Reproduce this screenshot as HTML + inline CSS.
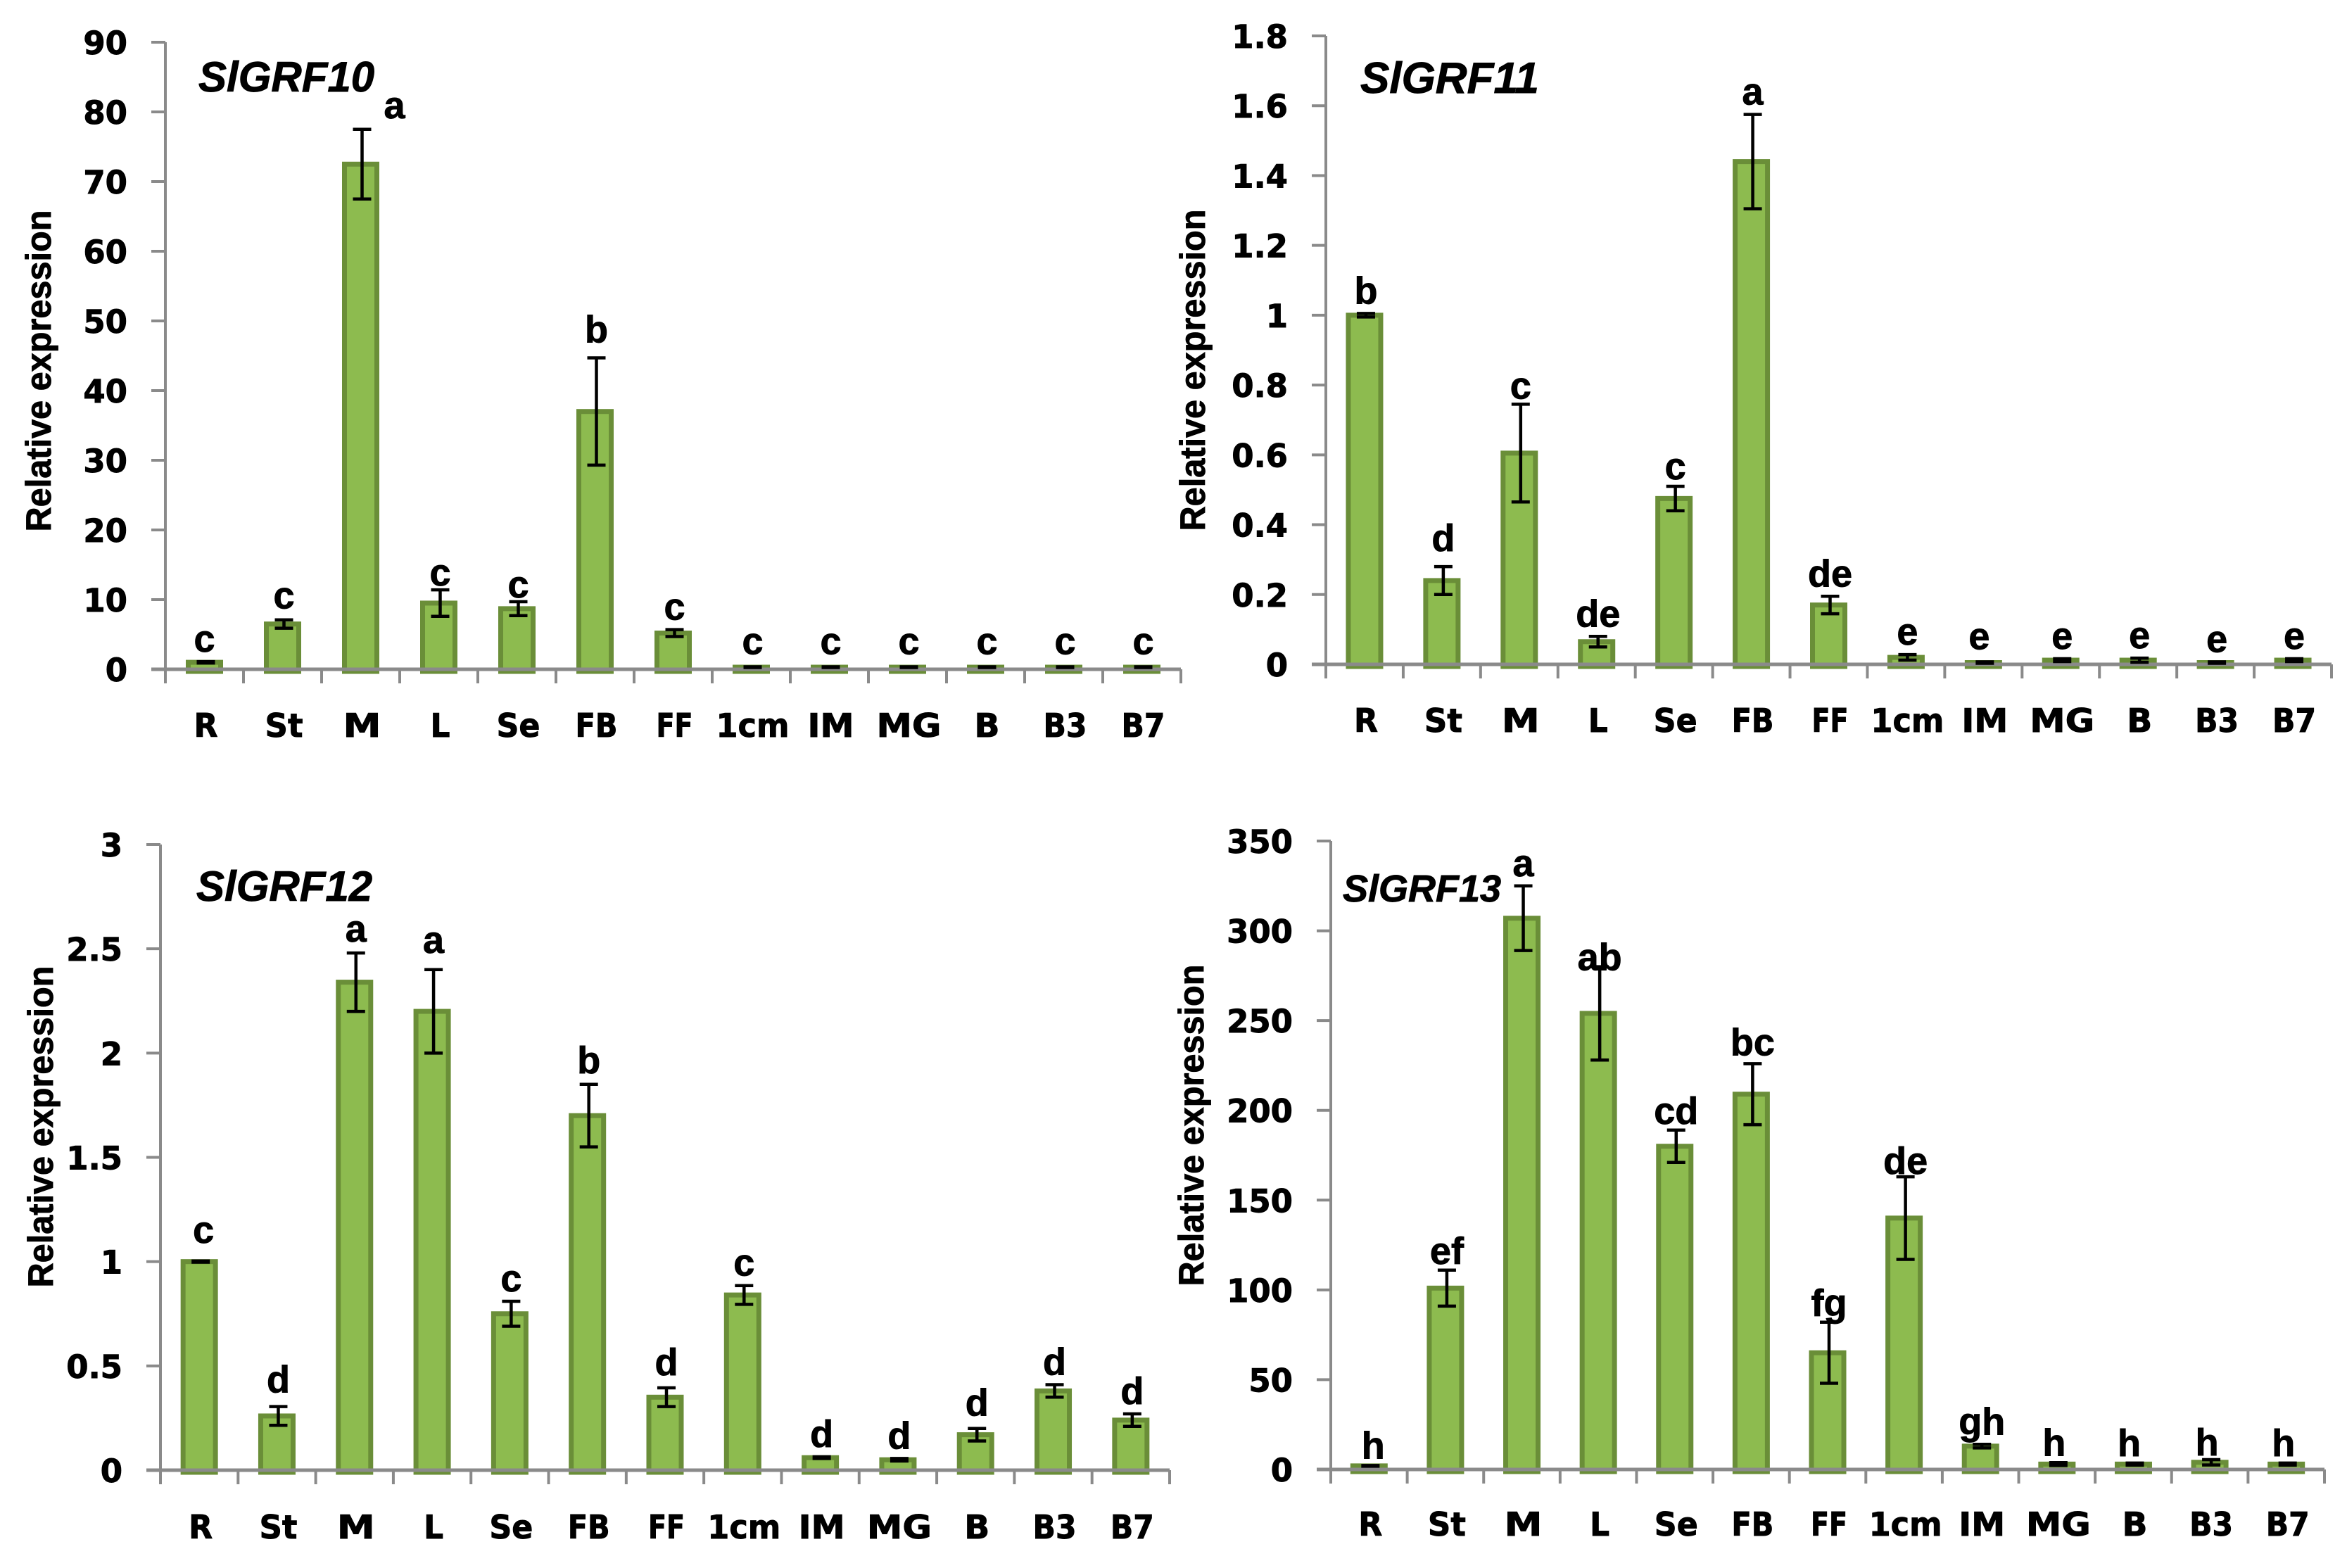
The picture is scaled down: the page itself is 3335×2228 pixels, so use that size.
<!DOCTYPE html>
<html lang="en">
<head>
<meta charset="utf-8">
<title>SlGRF relative expression</title>
<style>
html,body{margin:0;padding:0;background:#fff;}
svg{display:block;}
text{font-family:"DejaVu Sans","Liberation Sans",sans-serif;font-weight:bold;fill:#000;stroke:#000;stroke-width:0.9px;}
.title{font-family:"Liberation Sans",sans-serif;font-style:italic;}
.ytitle{font-family:"Liberation Sans",sans-serif;}
.letter{font-family:"Liberation Sans",sans-serif;}
</style>
</head>
<body>
<svg id="figure" xmlns="http://www.w3.org/2000/svg" width="3335" height="2228" viewBox="0 0 3335 2228"></svg>
<script>
const categories = ["R","St","M","L","Se","FB","FF","1cm","IM","MG","B","B3","B7"];

const values10 = [1, 6.5, 72.5, 9.5, 8.7, 37, 5.2, 0.3, 0.3, 0.3, 0.3, 0.3, 0.3];
const errors10 = [0.1, 0.6, 5, 1.9, 1, 7.7, 0.5, 0.05, 0.05, 0.05, 0.05, 0.05, 0.05];
const letters10 = ["c","c","a","c","c","b","c","c","c","c","c","c","c"];
const ticks10 = [0,10,20,30,40,50,60,70,80,90];

const values11 = [1.0, 0.24, 0.605, 0.065, 0.475, 1.44, 0.17, 0.02, 0.005, 0.012, 0.012, 0.005, 0.012];
const errors11 = [0.005, 0.04, 0.14, 0.015, 0.035, 0.135, 0.025, 0.008, 0.002, 0.004, 0.006, 0.002, 0.004];
const letters11 = ["b","d","c","de","c","a","de","e","e","e","e","e","e"];
const ticks11 = ["0","0.2","0.4","0.6","0.8","1","1.2","1.4","1.6","1.8"];

const values12 = [1, 0.26, 2.34, 2.2, 0.75, 1.7, 0.35, 0.84, 0.06, 0.05, 0.17, 0.38, 0.24];
const errors12 = [0.003, 0.045, 0.14, 0.2, 0.06, 0.15, 0.045, 0.045, 0.004, 0.006, 0.03, 0.03, 0.03];
const letters12 = ["c","d","a","a","c","b","d","c","d","d","d","d","d"];
const ticks12 = ["0","0.5","1","1.5","2","2.5","3"];

const values13 = [2, 101, 307, 254, 180, 209, 65, 140, 13, 3, 3, 4, 3];
const errors13 = [0.2, 10, 18, 26, 9, 17, 17, 23, 1, 0.8, 0.6, 1.5, 0.6];
const letters13 = ["h","ef","a","ab","cd","bc","fg","de","gh","h","h","h","h"];
const ticks13 = [0,50,100,150,200,250,300,350];

const NS = "http://www.w3.org/2000/svg";
const fig = document.getElementById("figure");

function make(tag, attrs, parent, txt) {
  const el = document.createElementNS(NS, tag);
  for (const k in attrs) el.setAttribute(k, attrs[k]);
  if (txt !== undefined) el.textContent = txt;
  parent.appendChild(el);
  return el;
}

function drawPanel(p) {
  const g = make("g", {}, fig);
  
  
  const n = categories.length;
  const step = (p.right - p.left) / n;
  const yMax = Number(p.ticks[p.ticks.length - 1]);
  const xPos = i => p.left + step * (i + 0.5);
  const yPos = v => p.base - (p.base - p.top) * Number(v) / yMax;

  const title = make("text", {class:"title", x:p.titleX, y:p.titleY, "font-size":p.titleSize}, g, p.title);
  
  

  const yTitle = make("text", {class:"ytitle", transform:"translate(" + p.yTitleX + " " + p.yTitleY + ") rotate(-90)", "text-anchor":"middle", "font-size":"50", textLength:"457", lengthAdjust:"spacingAndGlyphs"}, g, "Relative expression");
  
  

  p.values.forEach((v, i) => {
    const cx = xPos(i);
    const bar = make("rect", {x:cx - 23, width:46, y:yPos(v), height:Math.max(p.base - yPos(v) + 3, 1), fill:"#8dbb4f", stroke:"#6a8e38", "stroke-width":"7"}, g);
    
    
  });

  const axisColor = "#8a8a8a";
  const yAxis = make("line", {x1:p.left, x2:p.left, y1:p.top, y2:p.base + 20, stroke:axisColor, "stroke-width":"4"}, g);
  
  
  const xAxis = make("line", {x1:p.left - 20, x2:p.right, y1:p.base, y2:p.base, stroke:axisColor, "stroke-width":"5"}, g);
  
  

  p.ticks.forEach(t => {
    const y = yPos(t);
    const mark = make("line", {x1:p.left - 20, x2:p.left, y1:y, y2:y, stroke:axisColor, "stroke-width":"4"}, g);
    
    
    const label = make("text", {x:p.left - 54, y:y + 17, "text-anchor":"end", "font-size":"45"}, g, String(t));
    
    
  });

  for (let i = 0; i <= n; i++) {
    const x = p.left + step * i;
    const mark = make("line", {x1:x, x2:x, y1:p.base, y2:p.base + 20, stroke:axisColor, "stroke-width":"4"}, g);
    
    
  }

  categories.forEach((c, i) => {
    const label = make("text", {x:xPos(i) + 2, y:p.labelY, "text-anchor":"middle", "font-size":"46", textLength:p.labelWidth(c), lengthAdjust:"spacingAndGlyphs"}, g, c);
    
    
  });

  p.values.forEach((v, i) => {
    const cx = xPos(i) + 2;
    const hi = yPos(v + p.errors[i]);
    const lo = yPos(Math.max(v - p.errors[i], 0));
    const eb = make("path", {d:"M" + (cx - 13) + " " + hi + "H" + (cx + 13) + "M" + cx + " " + hi + "V" + lo + "M" + (cx - 13) + " " + lo + "H" + (cx + 13), fill:"none", stroke:"#000", "stroke-width":"4.5"}, g);
    
    

    const nudge = p.nudges[i] || [0, 0];
    const letter = make("text", {class:"letter", x:cx + nudge[0], y:hi - p.letterGap + nudge[1], "text-anchor":"middle", "font-size":"54"}, g, p.letters[i]);
    
    
  });
}

function labelWidth(c) {
  return ({"R":34,"St":54,"M":54,"L":28,"Se":62,"FB":60,"FF":52,"1cm":104,"IM":66,"MG":92,"B":36,"B3":62,"B7":62})[c];
}

drawPanel({name:"sl-grf10", title:"SlGRF10", values:values10, errors:errors10, letters:letters10, ticks:ticks10,
  left:235, right:1678, top:60, base:951, labelY:1047, titleX:282, titleY:130, titleSize:60,
  yTitleX:72, yTitleY:527, letterGap:14, labelWidth:labelWidth,
  nudges:{0:[-2,0],1:[0,-2],2:[46,-2],3:[0,8],4:[0,8],5:[0,-8],7:[0,-4],8:[0,-4],9:[0,-4],10:[0,-4],11:[0,-4],12:[0,-4]}});

drawPanel({name:"sl-grf11", title:"SlGRF11", values:values11, errors:errors11, letters:letters11, ticks:ticks11,
  left:1884, right:3313, top:51, base:944, labelY:1040, titleX:1933, titleY:132, titleSize:62,
  yTitleX:1712, yTitleY:526, letterGap:14, labelWidth:labelWidth,
  nudges:{1:[0,-8],2:[0,6],4:[0,4],8:[-8,-4],10:[0,0]}});

drawPanel({name:"sl-grf12", title:"SlGRF12", values:values12, errors:errors12, letters:letters12, ticks:ticks12,
  left:228, right:1662, top:1200, base:2089, labelY:2186, titleX:279, titleY:1280, titleSize:60,
  yTitleX:75, yTitleY:1601, letterGap:14, labelWidth:labelWidth,
  nudges:{0:[4,-12],1:[0,-6],2:[0,-2],3:[0,-10],5:[0,-2],6:[0,-4],8:[0,0],10:[0,-4]}});

drawPanel({name:"sl-grf13", title:"SlGRF13", values:values13, errors:errors13, letters:letters13, ticks:ticks13,
  left:1891, right:3303, top:1195, base:2088, labelY:2182, titleX:1908, titleY:1281, titleSize:54,
  yTitleX:1710, yTitleY:1599, letterGap:14, labelWidth:labelWidth,
  nudges:{0:[4,4],1:[0,5],3:[0,19],4:[0,5],5:[0,2],6:[0,5],7:[0,10],9:[-6,4],10:[-8,4],11:[-6,8],12:[-6,4]}});
</script>
</body>
</html>
